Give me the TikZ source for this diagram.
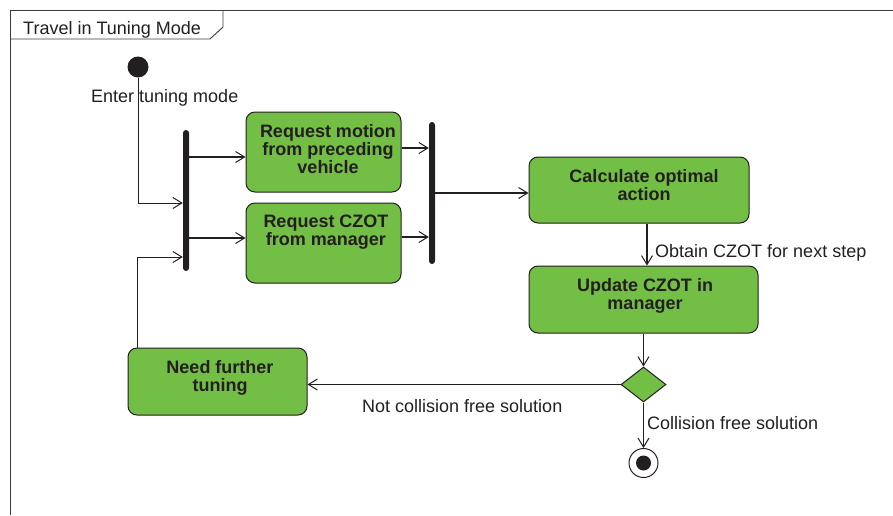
\documentclass[tikz,border=0pt]{standalone}
\usepackage{fontspec}
\setmainfont{Liberation Sans}
\usetikzlibrary{arrows.meta,shapes.geometric}
\definecolor{actgreen}{RGB}{115,190,69}
\definecolor{ink}{RGB}{35,31,32}
\definecolor{framegray}{RGB}{60,60,60}
\begin{document}
\begin{tikzpicture}[x=1pt,y=-1pt,
  font=\fontsize{18}{18}\selectfont, text=ink,
  actbox/.style={draw=ink, fill=actgreen, rounded corners=9pt, line width=1pt, inner sep=0pt},
  acttext/.style={font=\fontsize{18}{18}\selectfont\bfseries, align=center, inner sep=0pt},
  lbl/.style={inner sep=0pt, anchor=base west},
  tip/.style={-{Straight Barb[length=9pt,width=11pt,line width=1pt]}},
  conn/.style={draw=ink, line width=1.8pt, tip},
  thinconn/.style={draw=ink, line width=1pt, tip},
  barnode/.style={fill=ink, rounded corners=3pt, inner sep=0pt, minimum width=6pt}
]
\useasboundingbox (0,0) rectangle (893,515);
% frame
\draw[framegray, line width=0.9pt] (10,515) -- (10,10) -- (893,10);
\draw[framegray, line width=0.9pt] (10,39) -- (210,39) -- (223,27) -- (223,10);
\node[lbl] (title) at (23,34) {Travel in Tuning Mode};

% start
\node[circle, fill=ink, minimum size=21pt, inner sep=0pt] (start) at (138,67) {};
\node[lbl] (enterlbl) at (91,102) {Enter tuning mode};

% bars
\node[barnode, minimum height=141pt] (fork) at (186,200.5) {};
\node[barnode, minimum height=142pt] (join) at (432,193) {};

% activities
\node[actbox, minimum width=155pt, minimum height=80pt] (b1) at (323.5,152) {};
\node[acttext] (b1t) at (328,149) {Request motion\\from preceding\\vehicle};
\node[actbox, minimum width=155pt, minimum height=80pt] (b2) at (323.5,243) {};
\node[acttext] (b2t) at (326,232) {Request CZOT\\from manager};
\node[actbox, minimum width=220pt, minimum height=66pt] (calc) at (639,190) {};
\node[acttext] (calct) at (644,185) {Calculate optimal\\action};
\node[actbox, minimum width=229pt, minimum height=67pt] (upd) at (643.5,299.5) {};
\node[acttext] (updt) at (645,296) {Update CZOT in\\manager};
\node[actbox, minimum width=179pt, minimum height=67pt] (need) at (217.5,381.5) {};
\node[acttext] (needt) at (220,378) {Need further\\tuning};

% decision and end
\node[diamond, draw=ink, fill=actgreen, line width=1pt, inner sep=0pt,
      minimum width=45pt, minimum height=35pt, aspect=1.29] (dec) at (643.5,384.5) {};
\node[circle, draw=ink, fill=white, line width=1pt, minimum size=29pt, inner sep=0pt] (end) at (643.5,463) {};
\node[circle, fill=ink, minimum size=15pt, inner sep=0pt] (endin) at (end.center) {};

% connectors
\draw[thinconn] (start) |- (fork.west |- 0,203);
\draw[thinconn] (137,0 |- need.north) |- (fork.west |- 0,257);
\draw[conn] (fork.east |- 0,157) -- (b1.west |- 0,157);
\draw[conn] (fork.east |- 0,238) -- (b2.west |- 0,238);
\draw[conn] (b1.east |- 0,148) -- (join.west |- 0,148);
\draw[conn] (b2.east |- 0,237) -- (join.west |- 0,237);
\draw[conn] (join.east |- 0,193) -- (calc.west |- 0,193);
\draw[conn] (647,0 |- calc.south) -- (647,0 |- upd.north);
\draw[conn] (643.5,0 |- upd.south) -- (dec.north);
\draw[conn] (dec.west) -- (need.east |- dec.west);
\draw[conn] (dec.south) -- (end.north);

% labels
\node[lbl] (obtain) at (655,257) {Obtain CZOT for next step};
\node[lbl] (notfree) at (362,412) {Not collision free solution};
\node[lbl] (free) at (647,429) {Collision free solution};
\end{tikzpicture}
\end{document}
